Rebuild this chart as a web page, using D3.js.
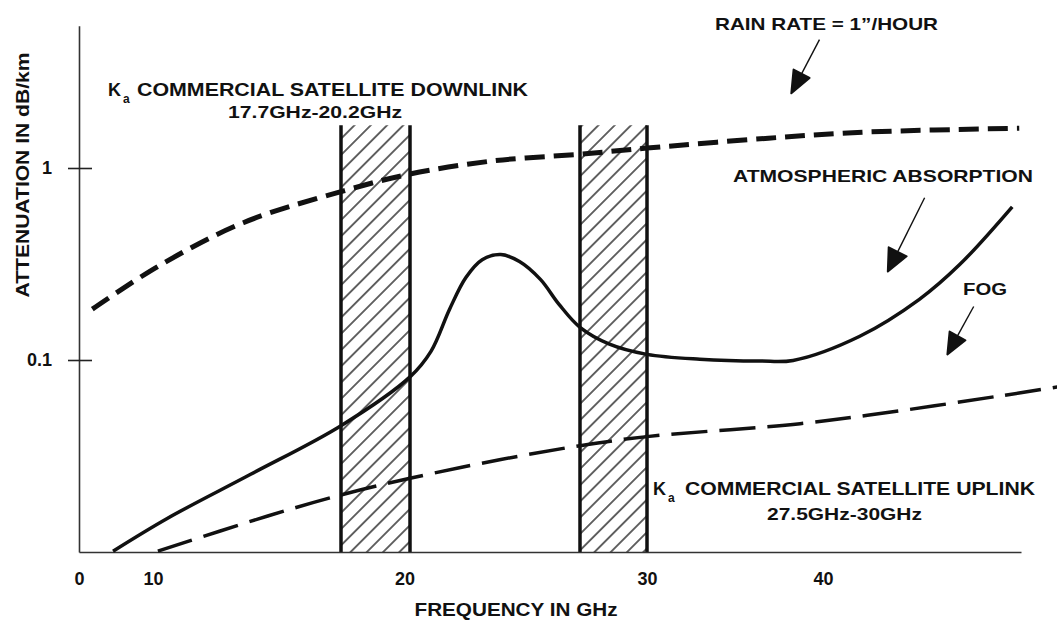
<!DOCTYPE html>
<html>
<head>
<meta charset="utf-8">
<script src="https://cdn.jsdelivr.net/npm/d3@7"></script>
<style>
  body { margin: 0; background: #fff; }
  text { font-family: "Liberation Sans", Arial, sans-serif; font-weight: bold; fill: #111; }
</style>
</head>
<body>
<div id="app"></div>
<script>
// values (GHz, dB/km)
var rainFreq  = [1.8, 10.2, 13.7, 17.8, 20.2, 23.8, 27.5, 30, 36.9, 42.6, 51.2]
var rainAtten = [0.184, 0.307, 0.519, 0.76, 0.93, 1.09, 1.18, 1.27, 1.43, 1.54, 1.61]

var fogFreq  = [10.2, 14.7, 17.8, 20.2, 24.1, 27.5, 30, 38.7, 44.4, 50.1, 53.4]
var fogAtten = [0.0101, 0.0154, 0.0200, 0.0242, 0.0303, 0.0358, 0.0399, 0.0466, 0.0544, 0.0650, 0.0724]

var atmFreq  = [4.6, 10.6, 14.0, 17.7, 20.2, 21.1, 21.9, 22.6, 23.3, 24.1, 24.9, 25.8, 26.6, 27.5, 28.6, 30, 33.0, 36.4, 38.3, 42.1, 45.5, 47.8, 50.8]
var atmAtten = [0.0101, 0.0150, 0.0254, 0.0455, 0.0817, 0.111, 0.184, 0.269, 0.333, 0.354, 0.326, 0.263, 0.195, 0.148, 0.121, 0.107, 0.101, 0.0988, 0.0995, 0.133, 0.207, 0.314, 0.628]

var bandNames = ['downlink', 'uplink']
var bandStart = [17.7, 27.5]
var bandEnd   = [20.2, 30]
var bandTop   = 1.67

var xTicks = [0, 10, 20, 30, 40]
var yTicks = [0.1, 1]
var yTickLabels = ['0.1', '1']

// arrows: [fromFreq, fromAtten, toFreq, toAtten]
var arrowRain = [39.8, 4.66, 38.2, 2.45]
var arrowAtm  = [45.8, 0.70, 43.7, 0.289]
var arrowFog  = [48.6, 0.19, 47.1, 0.107]

var width = 1057, height = 620

// the drawing's frequency axis is not evenly spaced, so use a piecewise scale
var x = d3.scaleLinear()
  .domain([0, 10, 17.7, 20.2, 27.5, 30, 40, 51.3])
  .range([79, 153, 341, 410, 580, 647, 823, 1021])

var y = d3.scaleLog()
  .domain([0.01, 5.5])
  .range([552, 552 - 192 * Math.log10(550)])

var svg = d3.select('#app').append('svg')
  .attr('width', width)
  .attr('height', height)

// hatch pattern
svg.append('defs').append('pattern')
  .attr('id', 'hatch')
  .attr('patternUnits', 'userSpaceOnUse')
  .attr('width', 11.5)
  .attr('height', 11.5)
  .attr('patternTransform', 'rotate(45)')
  .append('line')
  .attr('x1', 5.75).attr('y1', 0)
  .attr('x2', 5.75).attr('y2', 11.5)
  .attr('stroke', '#111')
  .attr('stroke-width', 1.3)

var bands = bandNames.map(function (n, i) {
  return { name: n, start: bandStart[i], end: bandEnd[i] }
})

svg.selectAll('.band')
  .data(bands)
  .enter()
  .append('rect')
  .attr('class', 'band')
  .attr('x', function (d) { return x(d.start) })
  .attr('y', y(bandTop))
  .attr('width', function (d) { return x(d.end) - x(d.start) })
  .attr('height', y(0.01) - y(bandTop))
  .attr('fill', 'url(#hatch)')

var edges = []
bands.forEach(function (b) { edges.push(b.start); edges.push(b.end) })
svg.selectAll('.edge')
  .data(edges)
  .enter()
  .append('line')
  .attr('class', 'edge')
  .attr('x1', function (d) { return x(d) })
  .attr('x2', function (d) { return x(d) })
  .attr('y1', y(bandTop))
  .attr('y2', y(0.01))
  .attr('stroke', '#111')
  .attr('stroke-width', 3.5)

// axes
var xAxis = svg.append('g')
  .attr('transform', 'translate(0,' + y(0.01) + ')')
  .call(d3.axisBottom(x).tickValues(xTicks).tickSize(0).tickPadding(20).tickFormat(d3.format('d')))
xAxis.select('.domain').attr('stroke', '#333').attr('stroke-width', 1.6)
xAxis.selectAll('text').style('font-size', '18px')

var yAxis = svg.append('g')
  .attr('transform', 'translate(' + x(0) + ',0)')
  .call(d3.axisLeft(y).tickValues(yTicks).tickSizeOuter(0).tickSizeInner(11).tickPadding(16)
    .tickFormat(function (d, i) { return yTickLabels[i] }))
yAxis.select('.domain').attr('stroke', '#333').attr('stroke-width', 1.6)
yAxis.selectAll('.tick line').attr('x1', 13).attr('x2', -11).attr('stroke', '#222').attr('stroke-width', 1.6)
yAxis.selectAll('text').style('font-size', '18px')

// curves
var line = d3.line()
  .x(function (d) { return x(d[0]) })
  .y(function (d) { return y(d[1]) })
  .curve(d3.curveCatmullRom.alpha(0.5))

function pairs(a, b) { return a.map(function (v, i) { return [v, b[i]] }) }

svg.append('path')
  .datum(pairs(fogFreq, fogAtten))
  .attr('d', line)
  .attr('fill', 'none')
  .attr('stroke', '#111')
  .attr('stroke-width', 3.5)
  .attr('stroke-dasharray', '36,12')

svg.append('path')
  .datum(pairs(rainFreq, rainAtten))
  .attr('d', line)
  .attr('fill', 'none')
  .attr('stroke', '#111')
  .attr('stroke-width', 5)
  .attr('stroke-dasharray', '20,9')

svg.append('path')
  .datum(pairs(atmFreq, atmAtten))
  .attr('d', line)
  .attr('fill', 'none')
  .attr('stroke', '#111')
  .attr('stroke-width', 3.5)

// arrows
function arrow(a, headLen, headW) {
  var x0 = x(a[0]), y0 = y(a[1]), x1 = x(a[2]), y1 = y(a[3])
  var dx = x1 - x0, dy = y1 - y0, len = Math.sqrt(dx * dx + dy * dy)
  var ux = dx / len, uy = dy / len
  var bx = x1 - ux * headLen, by = y1 - uy * headLen
  svg.append('line')
    .attr('x1', x0).attr('y1', y0).attr('x2', bx).attr('y2', by)
    .attr('stroke', '#111').attr('stroke-width', 1.4)
  svg.append('path')
    .attr('d', 'M' + x1 + ',' + y1 +
      'L' + (bx - uy * headW) + ',' + (by + ux * headW) +
      'L' + (bx + uy * headW) + ',' + (by - ux * headW) + 'Z')
    .attr('fill', '#111')
    .attr('stroke', '#111')
    .attr('stroke-linejoin', 'round')
    .attr('stroke-width', 2)
}
arrow(arrowRain, 22, 9)
arrow(arrowAtm, 22, 10)
arrow(arrowFog, 21, 9)

// labels
function label(txt, px, py, size, len, anchor) {
  return svg.append('text')
    .attr('x', px).attr('y', py)
    .attr('text-anchor', anchor || 'start')
    .style('font-size', size + 'px')
    .attr('textLength', len)
    .attr('lengthAdjust', 'spacingAndGlyphs')
    .text(txt)
}

svg.append('text').attr('x', 108).attr('y', 96).style('font-size', '18px').text('K')
svg.append('text').attr('x', 123).attr('y', 103).style('font-size', '12px').text('a')
label('COMMERCIAL SATELLITE DOWNLINK', 137, 96, 18, 391)
label('17.7GHz-20.2GHz', 315, 118, 17, 174, 'middle')

label('RAIN RATE = 1\u201d/HOUR', 715, 30, 17, 223)
label('ATMOSPHERIC ABSORPTION', 733, 182, 17, 300)
label('FOG', 963, 295, 17, 44)

svg.append('text').attr('x', 653).attr('y', 495).style('font-size', '18px').text('K')
svg.append('text').attr('x', 668).attr('y', 502).style('font-size', '12px').text('a')
label('COMMERCIAL SATELLITE UPLINK', 685, 495, 18, 350)
label('27.5GHz-30GHz', 767, 520, 17, 155)

label('FREQUENCY IN GHz', 516, 616, 19, 203, 'middle')

svg.append('text')
  .attr('transform', 'translate(29,175) rotate(-90)')
  .attr('text-anchor', 'middle')
  .style('font-size', '18px')
  .attr('textLength', 245)
  .attr('lengthAdjust', 'spacingAndGlyphs')
  .text('ATTENUATION IN dB/km')
</script>
</body>
</html>
